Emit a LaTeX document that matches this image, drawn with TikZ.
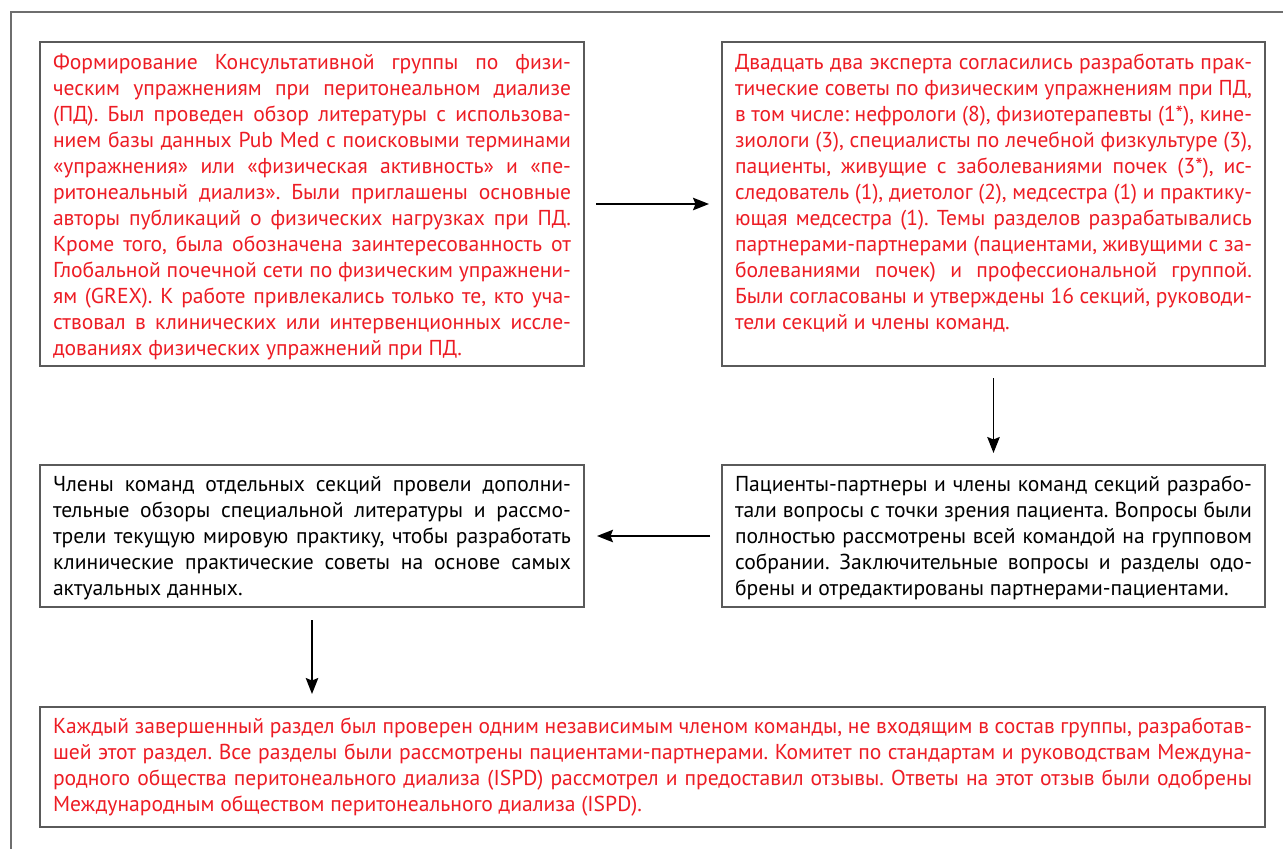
\documentclass[tikz,border=0pt]{standalone}
\usepackage{fontspec}
\setmainfont{PT Sans}
\usetikzlibrary{arrows.meta,calc}
\definecolor{txtred}{RGB}{237,28,36}
\definecolor{boxgray}{RGB}{90,90,90}
\definecolor{framegray}{RGB}{110,110,110}
\newlength\lw
\newlength\tmpw
\newsavebox\lnbox
\newcommand\jl[1]{\sbox\lnbox{#1}\ifdim\wd\lnbox>\lw\relax
  \pgfmathsetmacro\lnsc{\lw/\wd\lnbox}\noindent\scalebox{\lnsc}[1]{\usebox\lnbox}\par
  \else\noindent\hbox to \lw{#1}\par\fi}
\newcommand\lastln[1]{\noindent#1\par}
\newcommand\boxtext[4]{\parbox[c][#2][t]{#1}{\setlength\lw{#1}\frenchspacing\vspace*{#3}\hbox{}#4}}
\tikzset{
  box/.style={draw=boxgray, line width=1.3pt, inner ysep=0pt, outer sep=0pt, anchor=center},
  conn/.style={line width=1.7pt, -{Stealth[length=16pt,width=12.5pt,inset=2.5pt]}},
}
\begin{document}
\settowidth\tmpw{\fontsize{10pt}{12pt}\selectfont дованиях физических упражнений при ПД.}
\pgfmathsetmacro\fs{4090/\tmpw}
\begin{tikzpicture}[x=1pt,y=-1pt]
\useasboundingbox (0,0) rectangle (1283,849);
\draw[framegray, line width=1.3pt] (11,849) -- (11,12) -- (1283,12);
\tikzset{every node/.append style={font=\fontsize{\fs pt}{26pt}\selectfont}}
\node[box, text=txtred, inner xsep=13pt, minimum width=544pt, minimum height=324pt] (b1) at (312,204)
{\boxtext{518pt}{324pt}{1pt}{%
\jl{Формирование Консультативной группы по физи-}
\jl{ческим упражнениям при перитонеальном диализе}
\jl{(ПД). Был проведен обзор литературы с использова-}
\jl{нием базы данных Pub Med с поисковыми терминами}
\jl{«упражнения» или «физическая активность» и «пе-}
\jl{ритонеальный диализ». Были приглашены основные}
\jl{авторы публикаций о физических нагрузках при ПД.}
\jl{Кроме того, была обозначена заинтересованность от}
\jl{Глобальной почечной сети по физическим упражнени-}
\jl{ям (GREX). К работе привлекались только те, кто уча-}
\jl{ствовал в клинических или интервенционных иссле-}
\lastln{дованиях физических упражнений при ПД.}}};
\node[box, text=txtred, inner xsep=13pt, minimum width=543pt, minimum height=324pt] (b2) at (993.5,204)
{\boxtext{517pt}{324pt}{1pt}{%
\jl{Двадцать два эксперта согласились разработать прак-}
\jl{тические советы по физическим упражнениям при ПД,}
\jl{в том числе: нефрологи (8), физиотерапевты (1*), кине-}
\jl{зиологи (3), специалисты по лечебной физкультуре (3),}
\jl{пациенты, живущие с заболеваниями почек (3*), ис-}
\jl{следователь (1), диетолог (2), медсестра (1) и практику-}
\jl{ющая медсестра (1). Темы разделов разрабатывались}
\jl{партнерами-партнерами (пациентами, живущими с за-}
\jl{болеваниями почек) и профессиональной группой.}
\jl{Были согласованы и утверждены 16 секций, руководи-}
\lastln{тели секций и члены команд.}}};
\node[box, text=black, inner xsep=13pt, minimum width=543pt, minimum height=142pt] (b3) at (993.5,536)
{\boxtext{517pt}{142pt}{0pt}{%
\jl{Пациенты-партнеры и члены команд секций разрабо-}
\jl{тали вопросы с точки зрения пациента. Вопросы были}
\jl{полностью рассмотрены всей командой на групповом}
\jl{собрании. Заключительные вопросы и разделы одо-}
\lastln{брены и отредактированы партнерами-пациентами.}}};
\node[box, text=black, inner xsep=13pt, minimum width=544pt, minimum height=142pt] (b4) at (312,536)
{\boxtext{518pt}{142pt}{0pt}{%
\jl{Члены команд отдельных секций провели дополни-}
\jl{тельные обзоры специальной литературы и рассмо-}
\jl{трели текущую мировую практику, чтобы разработать}
\jl{клинические практические советы на основе самых}
\lastln{актуальных данных.}}};
\node[box, text=txtred, inner xsep=13pt, minimum width=1225pt, minimum height=120pt] (b5) at (652.5,767)
{\boxtext{1199pt}{120pt}{0pt}{%
\jl{Каждый завершенный раздел был проверен одним независимым членом команды, не входящим в состав группы, разработав-}
\jl{шей этот раздел. Все разделы были рассмотрены пациентами-партнерами. Комитет по стандартам и руководствам Междуна-}
\jl{родного общества перитонеального диализа (ISPD) рассмотрел и предоставил отзывы. Ответы на этот отзыв были одобрены}
\lastln{Международным обществом перитонеального диализа (ISPD).}}};
\draw[conn] ([xshift=12pt]b1.east) -- ([xshift=-13pt]b2.west);
\draw[conn] ([yshift=-12pt]b2.south) -- ([yshift=12pt]b3.north);
\draw[conn] ([xshift=-12pt]b3.west) -- ([xshift=13pt]b4.east);
\draw[conn] ([yshift=-13pt]b4.south) -- ([yshift=13pt]b4.south |- b5.north);
\end{tikzpicture}
\end{document}
